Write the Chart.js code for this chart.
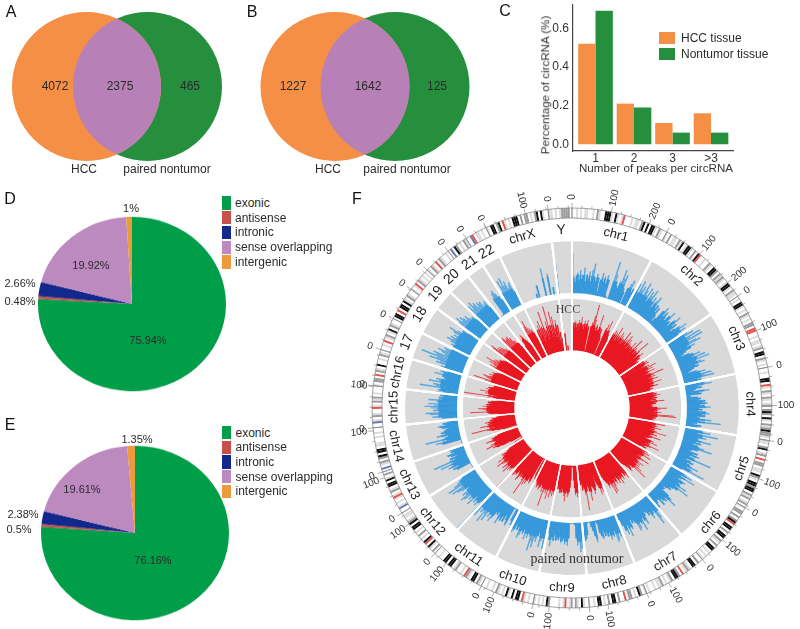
<!DOCTYPE html>
<html><head><meta charset="utf-8">
<style>
html,body{margin:0;padding:0;background:#fff}
#page{position:relative;width:800px;height:629px;overflow:hidden;background:#fff;font-family:"Liberation Sans",Arial,sans-serif;color:#2b2b2b}
canvas{position:absolute;display:block}
.t{position:absolute;white-space:nowrap;line-height:1}
.s{position:absolute}
</style>
<script src="https://cdn.jsdelivr.net/npm/chart.js@4"></script>
</head><body><div id="page"></div>
<script>
// ---------- data ----------
const vennAValues=[4072,2375,465];
const vennBValues=[1227,1642,125];
const vennSets=['HCC','paired nontumor'];
const vennCentres=[-0.5,0.5];

const peakCategories=['1','2','3','>3'];
const hccTissue=[0.52,0.21,0.11,0.16];
const nontumorTissue=[0.69,0.19,0.06,0.06];

const pieCategories=['exonic','antisense','intronic','sense overlapping','intergenic'];
const pieD=[75.94,0.48,2.66,19.92,1];
const pieE=[76.16,0.5,2.38,19.61,1.35];

const chrLabels=['chr1','chr2','chr3','chr4','chr5','chr6','chr7','chr8','chr9','ch10','chr11','chr12','chr13','chr14','chr15','chr16','17','18','19','20','21','22','chrX','Y'];
const chrLengthsMb=[249,243,198,191,181,171,159,146,141,135,135,133,115,107,102,90,81,78,59,63,48,51,155,59];
const chrSpansDeg=[28.3,27.7,22.2,21.2,20.5,19.4,18.7,17,16.3,15.7,16.3,15,13,13,12.1,10.6,9.6,9.8,7.2,8.1,6.3,6.5,18.6,6.9];

const ideogramBands=[
"..l.l.ll..l.ml..kkkl.kl.lr...l.ll.mk.k.kkl.ml..",
"l.m.ll.mlk.lkkl.m.kr..l..ml.kkm.mlml.lkkl.mll.",
".l.kkl.l.ml.l.mm.rr..l.ll.lm.kk.ml.l.",
"..l..kk.rl.ml.ml.lm.mkm.kl.mlmkmml.",
"ll.mk.lm.r.mm.ll.kml.kkmkk.mlm.lm.",
"l.mm.m.mkr.kk.m.kk.ml.m.kk.l.l.l",
"..m.kk.lml.r.mkk.ml.l.mll.l..l.",
"l.mk.l.mm.r..m.kk.m.l.kk.l..",
"..lk.lm.ml.rl.l....mk.l.l.l",
"..l.lr.kk.k.lk.l.lm.l..l..",
".lm.kk.lmr.l..ml.kk.kk..l..",
".m.lk.rk.l.m.l.kk.kml.ll.",
"..bl.l.lrl.ml.kk.kl.m.",
".b.lm.mk.kk.ll..l.l..",
"..bl.ml..rl.mlm.l...",
"l.mm.r.ml.k..l.ml.",
"..l.r.lm.lk.ml..",
".kk.r.kk.kl.ml..",
"l.lr.ml.l.l.",
"l.ml.r.ml..l.",
".b.km.l.ml",
"..br.ll.l..",
"l.kk.mk.rl.l.kkk.m.mm.l.mk.kl..",
"ll.l.lmmmm."];
const bandPalette={'.':'#ffffff','l':'#dcdcdc','m':'#9a9a9a','k':'#111111','r':'#e8504a','b':'#6a78b8'};

const blueChr1=[76,30,22,34,40,26,45,28,36,50,24,38,30,44,26,48,60,34,28,42,35,10,32,46,30,40,28,44,36,6,2,3,74,50,38,30,26,40,64,48,56,30,24,3,34,44,52,30,38,26];
const blueChr2=[40,52,34,60,44,52,36,62,48,40,56,30,52,44,58,34,46,26,42,52,30,38,24,34,20,8,16,36,46,28,40,30,24,38,48,26,30,22,40,50,28,36,20,28,40,52,34,46,28,24];
const blueChr3=[30,44,55,36,66,44,68,38,52,60,30,46,36,24,18,12,28,34,48,30,56,40,62,34,44,50,30,36,26,20,14,30,46,34,56,42,60,28,34,24];
const blueChr4=[26,40,52,24,32,20,16,46,26,30,8,10,22,28,24,36,30,40,26,34,46,24,30,22,38,44,30,36,20,26,48,24,66,22,14,30,24,18];
const blueChr5=[22,34,50,26,65,36,44,28,30,55,26,38,22,32,46,61,34,24,20,38,28,42,24,34,68,20,30,36,24,32,50,28,40,66,22,18];
const blueChr6=[40,30,48,26,56,30,24,42,36,30,34,50,28,58,36,28,22,26,18,12,16,14,30,40,52,28,34,30,24,36,22,20,26,34,18];
const blueChr7=[44,36,50,62,30,36,44,28,34,26,22,30,46,38,30,54,40,34,46,50,32,26,30,22,40,34,52,28,46,38,26,14,3];
const blueChr8=[60,44,36,48,52,30,40,36,44,30,36,28,34,24,38,32,26,8,4,42,30,20,12,3,2,4,26,32,36,28];
const blueChr9=[44,50,56,38,44,30,5,3,2,3,2,30,44,36,42,30,36,40,28,34,30,36,26,38,30,48,36,24,18];
const blueChr10=[46,56,36,42,54,28,34,46,40,58,48,66,40,34,44,36,48,30,40,34,44,50,30,36,28,40,44,26];
const blueChr11=[20,34,26,3,2,40,30,22,36,26,38,30,46,24,30,26,42,50,38,44,34,56,44,62,40,46,36,58,48];
const blueChr12=[98,30,36,44,34,42,30,52,38,44,36,50,56,42,48,36,30,44,52,62,40,67,52,44,38,30,26];
const blueChr13=[3,2,3,2,3,2,30,36,24,44,32,57,30,68,24,34,20,30,36,22,28,24,30];
const blueChr14=[3,2,3,2,3,40,50,28,68,30,24,45,28,36,30,26,22,32,40,24,30,22,28];
const blueChr15=[4,3,30,48,36,52,60,34,46,40,50,62,44,55,36,40,55,30,36,28,34,24];
const blueChr16=[44,30,40,34,74,44,50,36,59,40,46,28,32,36,52,34,42,28,24];
const blueChr17=[38,44,36,55,48,70,56,87,60,66,44,52,60,46,50,36,28];
const blueChr18=[28,36,42,34,46,55,44,50,40,46,38,50,60,44,34,36,24,20];
const blueChr19=[46,52,60,48,56,50,44,50,42,38,40,30,24];
const blueChr20=[50,58,48,62,52,56,44,52,48,50,38,42,46,30,24];
const blueChr21=[4,3,2,4,40,48,52,44,36,28,18];
const blueChr22=[28,40,62,50,65,48,56,40,46,50,30,22];
const blueChrX=[0,0,0,0,0,0,0,0,0,0,0,0,0,0,10,0,25,0,0,0,0,0,54,0,0,0,42,0,0,15,0,0,0];
const blueChrY=[61,0,0,0,0,0,0,0,0,0,0,0];

const redChr1=[62,48,54,44,58,46,52,40,60,48,56,66,46,52,44,60,48,54,62,46,50,6,3,52,60,72,94,66,50,44,58,46,48,78,54,44,52,40,36,5,3,58,66,50,74,56,48,42,38,34];
const redChr2=[44,56,50,62,46,60,42,72,50,58,46,66,54,60,44,56,48,74,52,60,46,70,56,64,44,58,50,54,48,66,52,44,76,54,60,46,56,48,81,60,50,42,56,62,48,52,44,40,46,36];
const redChr3=[48,56,46,60,54,62,50,46,60,52,72,56,64,48,52,66,50,46,56,80,60,52,62,48,58,66,50,54,46,70,56,48,52,62,46,44,50,40,44,36];
const redChr4=[42,50,46,56,48,62,50,46,56,44,52,42,68,54,48,52,42,46,38,44,54,72,60,50,56,48,62,54,46,85,90,56,46,52,48,44,50,42];
const redChr5=[38,50,72,56,46,60,50,66,48,54,46,60,78,54,48,62,50,46,70,52,48,42,46,60,54,68,50,56,46,75,60,48,44,52,40,38];
const redChr6=[52,60,48,64,50,58,70,54,46,52,44,72,60,52,46,50,66,54,60,48,62,56,70,60,82,54,48,44,52,58,46,40,36,30,28];
const redChr7=[40,52,62,50,56,48,46,60,50,54,66,48,56,62,50,46,60,54,48,62,72,54,75,60,48,56,60,50,46,42,36,30,26];
const redChr8=[34,50,62,54,66,52,46,40,30,48,56,62,50,46,44,58,72,54,46,40,52,88,60,48,44,50,36,40,30,26];
const redChr9=[46,56,62,52,58,44,30,6,4,5,30,44,52,58,62,50,56,70,60,52,46,54,48,56,50,44,48,40,36];
const redChr10=[48,60,54,64,52,60,68,50,56,72,54,62,56,60,88,52,62,50,46,56,60,48,52,58,50,44,46,40];
const redChr11=[52,44,38,3,5,58,50,46,56,62,54,66,50,88,60,54,50,56,48,62,66,50,46,58,54,60,62,48,40];
const redChr12=[100,42,52,60,56,62,50,70,56,60,66,52,48,58,62,72,56,50,66,54,50,46,52,40,36,34,28];
const redChr13=[30,20,5,3,4,25,42,52,60,48,72,56,62,52,50,60,68,52,56,48,42,36,30];
const redChr14=[25,4,3,30,40,50,60,88,44,52,58,70,48,56,50,60,44,50,42,46,38,32,28];
const redChr15=[30,6,35,48,52,85,50,56,62,70,54,52,62,48,56,50,44,52,46,38,34,30];
const redChr16=[80,38,44,98,36,52,60,54,70,56,52,60,50,56,48,44,46,38,32];
const redChr17=[58,66,88,54,60,66,72,60,54,62,56,52,58,50,46,40,34];
const redChr18=[52,60,68,56,62,72,64,80,66,60,64,56,58,52,50,46,38,30];
const redChr19=[72,80,85,70,74,68,72,66,62,60,54,48,40];
const redChr20=[68,76,80,70,74,72,76,66,70,60,62,54,52,44,36];
const redChr21=[8,5,40,52,62,58,50,46,40,34,26];
const redChr22=[56,66,72,82,68,62,64,58,60,52,40,28];
const redChrX=[48,30,54,36,62,42,70,28,58,34,85,40,48,30,64,36,92,44,56,32,80,38,70,30,46,62,24,52,20,38,18,26,14];
const redChrY=[0,0,35,0,0,12,0,0,0,0,0,0];

const blueTrack=[blueChr1,blueChr2,blueChr3,blueChr4,blueChr5,blueChr6,blueChr7,blueChr8,blueChr9,blueChr10,blueChr11,blueChr12,blueChr13,blueChr14,blueChr15,blueChr16,blueChr17,blueChr18,blueChr19,blueChr20,blueChr21,blueChr22,blueChrX,blueChrY];
const redTrack=[redChr1,redChr2,redChr3,redChr4,redChr5,redChr6,redChr7,redChr8,redChr9,redChr10,redChr11,redChr12,redChr13,redChr14,redChr15,redChr16,redChr17,redChr18,redChr19,redChr20,redChr21,redChr22,redChrX,redChrY];

// ---------- helpers ----------
Chart.defaults.animation=false;
Chart.defaults.responsive=false;
Chart.defaults.maintainAspectRatio=false;
Chart.defaults.font.family='"Liberation Sans",Arial,sans-serif';
Chart.defaults.plugins.legend.display=false;
Chart.defaults.plugins.tooltip.enabled=false;

const page=document.getElementById('page');
function mk(l,t,w,h){const c=document.createElement('canvas');c.width=w;c.height=h;c.style.left=l+'px';c.style.top=t+'px';c.style.width=w+'px';c.style.height=h+'px';page.appendChild(c);return c;}
function label(text,x,y,o={}){const d=document.createElement('div');d.className='t';d.textContent=text;
  d.style.left=x+'px';d.style.top=y+'px';d.style.fontSize=(o.size||12)+'px';
  if(o.font)d.style.fontFamily=o.font;if(o.color)d.style.color=o.color;
  d.style.transform=(o.left?'translate(0,-50%)':'translate(-50%,-50%)')+(o.rot?` rotate(${o.rot}deg)`:'');
  page.appendChild(d);}
function swatch(x,y,w,h,col){const d=document.createElement('div');d.className='s';d.style.cssText+=`left:${x}px;top:${y}px;width:${w}px;height:${h}px;background:${col}`;page.appendChild(d);}

// ---------- Venn ----------
const COL_O='#F58F45',COL_G='#258F3E',COL_P='#B781B8';
const lensPlugin={id:'lens',afterDatasetsDraw(ch){const a=ch.getDatasetMeta(0).data[0],b=ch.getDatasetMeta(1).data[0],c=ch.ctx,r=a.options.radius;
  c.save();c.beginPath();c.arc(a.x,a.y,r,0,7);c.clip();c.beginPath();c.arc(b.x,b.y,r,0,7);c.fillStyle=COL_P;c.fill();c.restore();}};
function venn(left,w,unit){
  const half=w/2/unit;
  new Chart(mk(left,0,w,173),{type:'bubble',plugins:[lensPlugin],data:{datasets:[
    {data:[{x:vennCentres[0],y:0,r:74.5}],backgroundColor:COL_O,borderWidth:0,clip:false},
    {data:[{x:vennCentres[1],y:0,r:74.5}],backgroundColor:COL_G,borderWidth:0,clip:false}]},
    options:{layout:{padding:0,autoPadding:false},scales:{x:{display:false,min:-half,max:half},y:{display:false,min:-1,max:1}}}});
}
venn(0,234,61);
venn(247.5,234,60);
label(vennAValues[0],55,86);label(vennAValues[1],120,86);label(vennAValues[2],190,86);
label(vennSets[0],84,169);label(vennSets[1],167,169);
label(vennBValues[0],293,86);label(vennBValues[1],368,86);label(vennBValues[2],437,86);
label(vennSets[0],328,169);label(vennSets[1],407,169);

// ---------- bars ----------
const barX=[1,2,3,4];
new Chart(mk(537,0,213,175),{type:'bar',data:{datasets:[
  {label:'HCC tissue',data:barX.map((x,i)=>({x,y:hccTissue[i]})),backgroundColor:COL_O,categoryPercentage:0.9,barPercentage:1,borderWidth:0},
  {label:'Nontumor tissue',data:barX.map((x,i)=>({x,y:nontumorTissue[i]})),backgroundColor:COL_G,categoryPercentage:0.9,barPercentage:1,borderWidth:0}]},
 options:{layout:{padding:{top:5,right:17},autoPadding:false},scales:{
  x:{type:'linear',min:0.415,max:4.571,offset:false,grid:{display:false,drawTicks:false},border:{color:'#444',width:1.2},
     afterFit:s=>{s.height=24;s.paddingLeft=0;s.paddingRight=0},
     ticks:{stepSize:1,includeBounds:false,padding:0,color:'#333',font:{size:12},maxRotation:0,autoSkip:false,callback:v=>peakCategories[v-1]||''}},
  y:{min:-0.035,max:0.72,grid:{display:false,drawTicks:false},border:{color:'#444',width:1.2},
     afterFit:s=>{s.width=36;s.paddingTop=0;s.paddingBottom=0},
     ticks:{stepSize:0.2,includeBounds:false,padding:4,color:'#333',font:{size:12},callback:v=>v.toFixed(1)}}}}});
label('Number of peaks per circRNA',656,168,{size:11.6,color:'#333'});
label('Percentage of circRNA (%)',545,84.5,{size:11.6,color:'#333',rot:-90});
swatch(659,32,16,11.5,COL_O);swatch(659,48,16,12,COL_G);
label('HCC tissue',681,38,{left:1});label('Nontumor tissue',681,54,{left:1});

// ---------- pies ----------
const pieColors=['#009E49','#C8504A','#13288B','#BC8ABF','#EC9A3C'];
function pie(cx,cy,vals){const c=mk(cx-100,cy-100,200,200);c.style.transform='scaleY(0.928)';
  new Chart(c,{type:'pie',data:{labels:pieCategories,datasets:[{data:vals,backgroundColor:pieColors,borderWidth:0}]},options:{radius:94}});}
pie(132,303.5,pieD);pie(134.5,533,pieE);
function pieLegend(y0,tx){pieCategories.forEach((n,i)=>{swatch(222,y0+i*14.7-6.6,8.5,13.4,pieColors[i]);label(n,tx,y0+i*14.7,{left:1});});}
pieLegend(203,235);pieLegend(432.5,235.5);
label(pieD[4]+'%',131,208,{size:11});label(pieD[3]+'%',91,265,{size:11});label(pieD[2]+'%',20,283,{size:11});label(pieD[1]+'%',20,301,{size:11});label(pieD[0]+'%',148,340,{size:11});
label(pieE[4]+'%',137,439,{size:11});label(pieE[3]+'%',82,489,{size:11});label(pieE[2]+'%',23,514,{size:11});label(pieE[1]+'%',19,529,{size:11});label(pieE[0]+'%',153,560,{size:11});

// ---------- circos ----------
const CX=572,CY=408,CS=480;
const cLeft=CX-CS/2,cTop=CY-CS/2;
function ring(vals,fill,outer,inner,bw,bc,plugins){
  return new Chart(mk(cLeft,cTop,CS,CS),{type:'doughnut',plugins:plugins||[],data:{labels:vals.map((_,i)=>i),datasets:[{data:vals,backgroundColor:fill,borderWidth:bw||0,borderColor:bc||'#fff'}]},
   options:{radius:outer,cutout:(inner/outer*100)+'%',events:[]}});
}
function polar(track,inner,pxPerUnit,solid,light,cap){
  const angles=[],vals=[];
  track.forEach((arr,i)=>arr.forEach(v=>{vals.push(v);angles.push(chrSpansDeg[i]/arr.length);}));
  const ang=ctx=>angles[ctx.dataIndex];
  new Chart(mk(cLeft,cTop,CS,CS),{type:'polarArea',data:{labels:vals.map((_,i)=>i),datasets:[
     {data:vals.map(v=>Math.min(v,cap)),backgroundColor:solid,borderWidth:0.4,borderColor:solid,angle:ang},
     {data:vals,backgroundColor:light,borderWidth:0,angle:ang}]},
   options:{events:[],scales:{r:{display:false,min:-inner/pxPerUnit,max:(CS/2-inner)/pxPerUnit,startAngle:0}}}});
}
// ideogram
const bandVals=[],bandCols=[];
ideogramBands.forEach((s,i)=>{[...s].forEach(ch=>{bandVals.push(chrSpansDeg[i]/s.length);bandCols.push(bandPalette[ch]);});});
ring(bandVals,bandCols,200,190);
const tickPlugin={id:'ticks',afterDraw(ch){const c=ch.ctx,a=ch.chartArea,x0=(a.left+a.right)/2,y0=(a.top+a.bottom)/2;let s=0;
  c.save();c.strokeStyle='#777';c.lineWidth=0.6;
  chrLengthsMb.forEach((len,i)=>{const k=chrSpansDeg[i]/len;
    for(let m=0;m<=len;m+=25){const t=(s+m*k)*Math.PI/180,r2=m%100===0?205:202.5;
      c.beginPath();c.moveTo(x0+200*Math.sin(t),y0-200*Math.cos(t));c.lineTo(x0+r2*Math.sin(t),y0-r2*Math.cos(t));c.stroke();}
    s+=chrSpansDeg[i];});
  c.restore();}};
ring(chrSpansDeg,'rgba(0,0,0,0)',200,190,0.8,'#8a8a8a',[tickPlugin]);
// outer track
ring(chrSpansDeg,'#D9D9D9',168,114,2,'#fff');
polar(blueTrack,114,0.54,'#3498DB','#56A7E0',36);
ring(chrSpansDeg,'rgba(0,0,0,0)',168,114,2,'#fff');
ring([1],'#fff',114,0);
// inner track
ring(chrSpansDeg,'#D9D9D9',110,57,1.4,'#fff');
polar(redTrack,56,0.54,'#E8141E','#EC3A44',54);
ring(chrSpansDeg,'rgba(0,0,0,0)',110,57,1.4,'#fff');
ring([1],'#fff',57,0);
// circos labels
(function(){let s=0;
  chrLabels.forEach((n,i)=>{const span=chrSpansDeg[i],mid=s+span/2,t=mid*Math.PI/180;
    const rot=(mid>92&&mid<268)?mid-180:(mid>=268?mid-360:mid);
    const numeric=/^(\d+|Y)$/.test(n);
    label(n,CX+179*Math.sin(t),CY-179*Math.cos(t),{size:numeric?14:13,rot,color:'#222'});
    const k=span/chrLengthsMb[i];
    for(let m=0;m<=chrLengthsMb[i];m+=100){const th=s+m*k,tr=th*Math.PI/180,r=m===0?211:214;
      label(String(m),CX+r*Math.sin(tr),CY-r*Math.cos(tr),{size:10,rot:th<180?th-90:th+90,color:'#333'});}
    s+=span;});
})();
label('HCC',568,309,{size:12,font:'"Liberation Serif",serif',color:'#444'});
label('paired nontumor',577,559,{size:14,font:'"Liberation Serif",serif',color:'#333'});

// ---------- panel letters ----------
[['A',11,12],['B',252,12],['C',505,11],['D',10,199],['E',10,425],['F',357,199]].forEach(p=>label(p[0],p[1],p[2],{size:16,color:'#111'}));
</script></body></html>
